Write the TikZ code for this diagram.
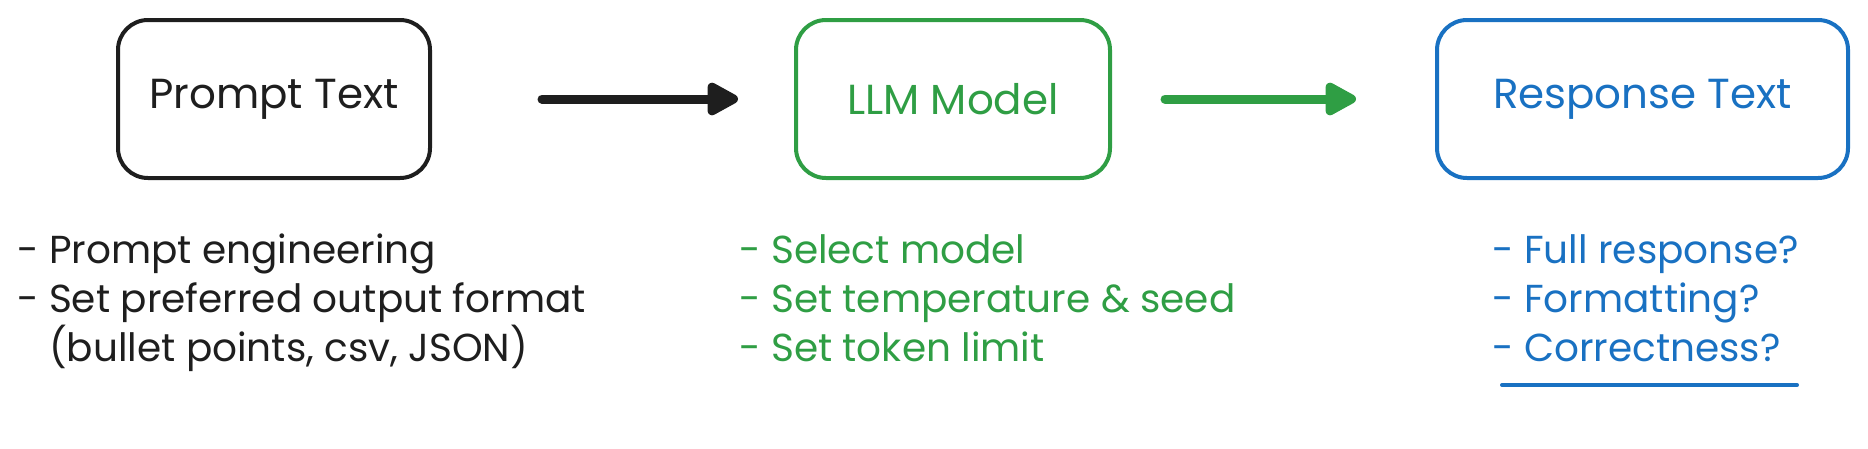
\documentclass[tikz,border=0pt]{standalone}
\usepackage{fontspec}
\setmainfont{Poppins}
\usetikzlibrary{arrows.meta}
\definecolor{inkK}{HTML}{1E1E1E}
\definecolor{inkG}{HTML}{2F9E44}
\definecolor{inkB}{HTML}{1971C2}
\tikzset{
  stagebox/.style={draw, line width=4pt, rounded corners=30pt, inner sep=0pt,
    minimum height=158pt, font=\fontsize{42}{50}\selectfont},
  flowarrow/.style={line width=9pt, line cap=round,
    -{Triangle[length=36pt,width=36pt,round]}},
  listline/.style={anchor=base west, inner sep=0pt, font=\fontsize{39}{48}\selectfont},
}
\begin{document}
\begin{tikzpicture}[x=1pt,y=-1pt]
\useasboundingbox (0,0) rectangle (1868,448);
% boxes
\node[stagebox, draw=inkK, text=inkK, minimum width=312pt] (prompt) at (274,99) {Prompt Text};
\node[stagebox, draw=inkG, text=inkG, minimum width=314pt] (llm) at (953,99) {LLM Model};
\node[stagebox, draw=inkB, text=inkB, minimum width=411pt] (resp) at (1642.5,99) {Response Text};
% arrows
\draw[flowarrow, draw=inkK, fill=inkK, shorten <=110pt, shorten >=56pt] (prompt) -- (llm);
\draw[flowarrow, draw=inkG, fill=inkG, shorten <=53pt, shorten >=79pt] (llm) -- (resp);
% left list
\node[listline, text=inkK] (p1) at (17,263) {- Prompt engineering};
\node[listline, text=inkK] (p2) at (17,312) {- Set preferred output format};
\node[listline, text=inkK] (p3) at (17,361) {\hphantom{- }(bullet points, csv, JSON)};
% middle list
\node[listline, text=inkG] (m1) at (739,263) {- Select model};
\node[listline, text=inkG] (m2) at (739,312) {- Set temperature \& seed};
\node[listline, text=inkG] (m3) at (739,361) {- Set token limit};
% right list
\node[listline, text=inkB] (r1) at (1492,263) {- Full response?};
\node[listline, text=inkB] (r2) at (1492,312) {- Formatting?};
\node[listline, text=inkB] (r3) at (1492,361) {- Correctness?};
\coordinate (u1) at (1502,385);
\coordinate (u2) at (1797,385);
\draw[inkB, line width=4pt, line cap=round] (u1) -- (u2);
\end{tikzpicture}
\end{document}
